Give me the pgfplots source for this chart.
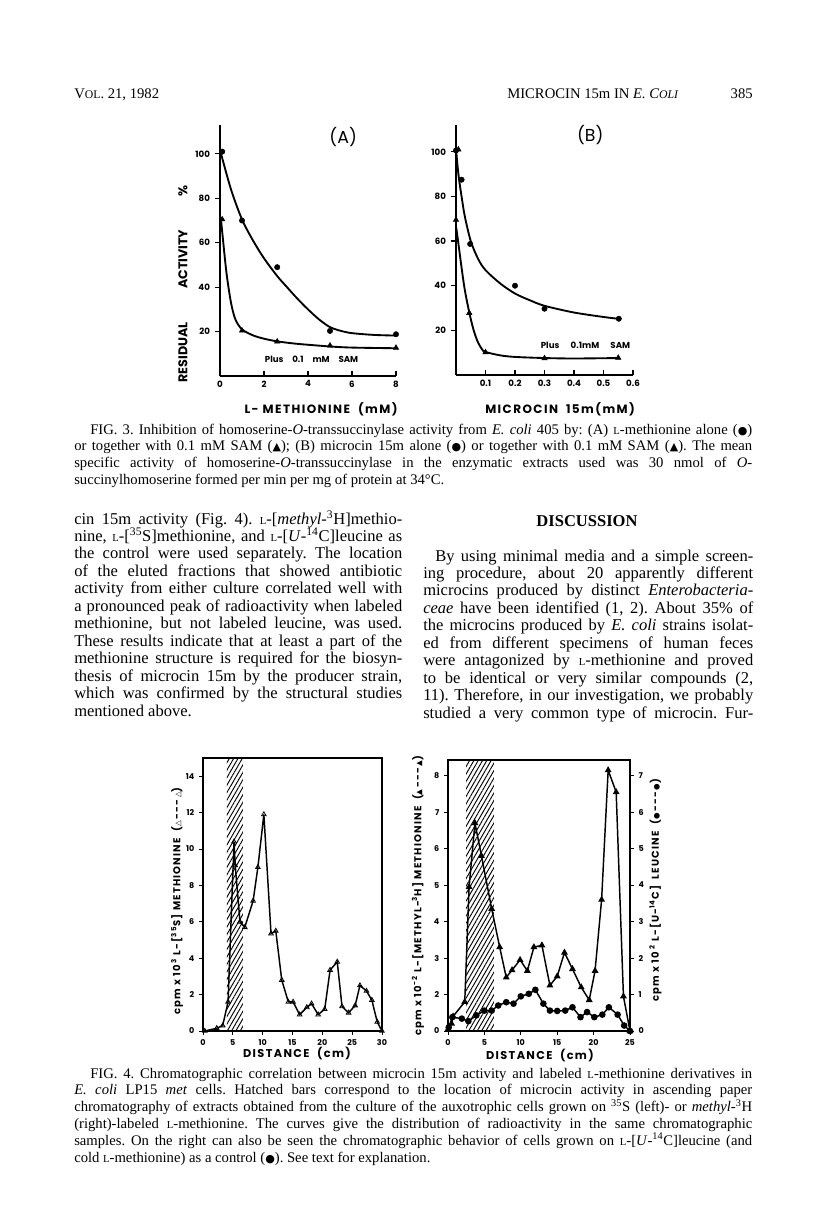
\documentclass[border=0pt]{standalone}
\usepackage{fontspec}
\setmainfont{Liberation Serif}
\newfontfamily\cf{Poppins}
\newfontfamily\cfs[LetterSpace=12]{Poppins}
\newfontfamily\sym{DejaVu Sans}
\usepackage{pgfplots}
\pgfplotsset{compat=1.18}
\usetikzlibrary{patterns.meta}

\newcommand\Ls{{\footnotesize L}}
\newcommand\jl[1]{\makebox[\linewidth][s]{#1}\par}
\newcommand\cir{{\sym\scalebox{0.75}{●}}}
\newcommand\tri{{\sym\scalebox{0.75}{▲}}}
\newcommand\otri{{\sym\scalebox{0.75}{△}}}

\tikzset{ylab4/.style={font=\cfs\bfseries\fontsize{7.5}{8}\selectfont}}
\pgfplotsset{
  tick label style={font=\cf\bfseries\fontsize{6.5}{7}\selectfont},
  /pgf/number format/assume math mode=true,
  fig3/.style={scale only axis, anchor=south west, axis lines=left,
    axis line style={line width=1.1pt, -}, tick style={line width=0.9pt, black},
    ytick align=outside, xtick align=inside, major tick length=4pt,
    ytick={20,40,60,80,100}, clip=false,
    label style={font=\cfs\bfseries\fontsize{9}{10}\selectfont}},
  fig4/.style={scale only axis, anchor=south west, tick pos=left,
    axis line style={line width=0.8pt}, tick style={line width=0.7pt, black},
    tick align=outside, major tick length=3pt,
    tick label style={font=\cf\bfseries\fontsize{6}{7}\selectfont},
    label style={font=\cfs\bfseries\fontsize{8.5}{9}\selectfont}},
  hatch/.style={draw=none, pattern={Lines[angle=60, distance=2.8pt, line width=0.7pt]}},
}

\begin{document}
\frenchspacing
\begin{tikzpicture}
\begin{scope}[x=0.75pt, y=-0.75pt]
\fill[white] (0,0) rectangle (816,1208);

% running head
\node[anchor=base west, inner sep=0, font=\fontsize{11}{12}\selectfont] at (74,98) {V{\fontsize{8.8}{10}\selectfont OL}. 21, 1982};
\node[anchor=base west, inner sep=0, font=\fontsize{11}{12}\selectfont] at (507,98) {MICROCIN 15m IN \textit{E. C{\fontsize{8.8}{10}\selectfont OLI}}};
\node[anchor=base east, inner sep=0, font=\fontsize{11}{12}\selectfont] at (753,98) {385};

% caption fig 3
\node[anchor=base west, inner sep=0] at (74,434) {\parbox[t]{508.5pt}{\fontsize{11}{12.6}\selectfont\parskip0pt\parindent0pt
\jl{\hspace*{12pt}FIG. 3. Inhibition of homoserine-\textit{O}-transsuccinylase activity from \textit{E. coli} 405 by: (A) \Ls-methionine alone (\cir)}
\jl{or together with 0.1 mM SAM (\tri); (B) microcin 15m alone (\cir) or together with 0.1 mM SAM (\tri). The mean}
\jl{specific activity of homoserine-\textit{O}-transsuccinylase in the enzymatic extracts used was 30 nmol of \textit{O}-}
\mbox{succinylhomoserine formed per min per mg of protein at 34°C.}}};

% left column
\node[anchor=base west, inner sep=0] at (74,524) {\parbox[t]{246pt}{\fontsize{12.4}{13.1}\selectfont\parskip0pt\parindent0pt
\jl{cin 15m activity (Fig. 4). \Ls-[\textit{methyl}-\textsuperscript{3}H]methio-}
\jl{nine, \Ls-[\textsuperscript{35}S]methionine, and \Ls-[\textit{U}-\textsuperscript{14}C]leucine as}
\jl{the control were used separately. The location}
\jl{of the eluted fractions that showed antibiotic}
\jl{activity from either culture correlated well with}
\jl{a pronounced peak of radioactivity when labeled}
\jl{methionine, but not labeled leucine, was used.}
\jl{These results indicate that at least a part of the}
\jl{methionine structure is required for the biosyn-}
\jl{thesis of microcin 15m by the producer strain,}
\jl{which was confirmed by the structural studies}
\mbox{mentioned above.}}};

% right column
\node[anchor=base, inner sep=0, font=\bfseries\fontsize{12.4}{13}\selectfont] at (587,526) {DISCUSSION};
\node[anchor=base west, inner sep=0] at (423,561) {\parbox[t]{247.5pt}{\fontsize{12.4}{13.1}\selectfont\parskip0pt\parindent0pt
\jl{\hspace*{9pt}By using minimal media and a simple screen-}
\jl{ing procedure, about 20 apparently different}
\jl{microcins produced by distinct \textit{Enterobacteria-}}
\jl{\textit{ceae} have been identified (1, 2). About 35\% of}
\jl{the microcins produced by \textit{E. coli} strains isolat-}
\jl{ed from different specimens of human feces}
\jl{were antagonized by \Ls-methionine and proved}
\jl{to be identical or very similar compounds (2,}
\jl{11). Therefore, in our investigation, we probably}
\jl{studied a very common type of microcin. Fur-}}};

% caption fig 4
\node[anchor=base west, inner sep=0] at (74,1078) {\parbox[t]{508.5pt}{\fontsize{11}{12.6}\selectfont\parskip0pt\parindent0pt
\jl{\hspace*{12pt}FIG. 4. Chromatographic correlation between microcin 15m activity and labeled \Ls-methionine derivatives in}
\jl{\textit{E. coli} LP15 \textit{met} cells. Hatched bars correspond to the location of microcin activity in ascending paper}
\jl{chromatography of extracts obtained from the culture of the auxotrophic cells grown on \textsuperscript{35}S (left)- or \textit{methyl}-\textsuperscript{3}H}
\jl{(right)-labeled \Ls-methionine. The curves give the distribution of radioactivity in the same chromatographic}
\jl{samples. On the right can also be seen the chromatographic behavior of cells grown on \Ls-[\textit{U}-\textsuperscript{14}C]leucine (and}
\mbox{cold \Ls-methionine) as a control (\cir). See text for explanation.}}};
\end{scope}

% ---------- Fig 3 (A)
\begin{axis}[fig3, at={(165pt,-282pt)}, width=132pt, height=188.25pt,
  xmin=0, xmax=8, ymin=0, ymax=113, xtick={0,2,4,6,8},
  xlabel={L- METHIONINE\ \ (mM)},
  xlabel style={at={(rel axis cs:0.574,-0.131)}, anchor=center},
  ylabel={\makebox[148pt][s]{RESIDUAL ACTIVITY \%}},
  ylabel style={at={(rel axis cs:-0.21,0.367)}, anchor=center, font=\cf\bfseries\fontsize{9.5}{10}\selectfont}]
\addplot[smooth, line width=1.4pt, no marks] coordinates {(0.05,100) (0.5,84) (1,70.5) (1.5,61) (2,53) (2.6,45) (3,40.5) (3.5,35) (4,30) (4.5,25.5) (5,22) (5.5,20.3) (6,19.3) (7,18.5) (8,18.2)};
\addplot[smooth, line width=1.4pt, no marks] coordinates {(0.05,70) (0.15,60) (0.3,46) (0.5,33) (0.7,25.5) (1,21) (1.5,18.3) (2,16.8) (2.6,15.6) (3.5,14.5) (5,13.3) (6,12.8) (8,12.5)};
\addplot[only marks, mark=*, mark size=2pt] coordinates {(0.1,101) (1,70) (2.6,49) (5,20.3) (8,18.8)};
\addplot[only marks, mark=triangle*, mark size=2.3pt] coordinates {(0.1,70.5) (1,20.4) (2.6,15.5) (5,13.7) (8,12.7)};
\node[font=\cf\fontsize{13}{14}\selectfont] at (axis cs:5.6,107.6) {(A)};
\node[font=\cf\bfseries\fontsize{6.5}{7}\selectfont] at (axis cs:4.16,7.7) {\makebox[70pt][s]{Plus 0.1 mM SAM}};
\end{axis}

% ---------- Fig 3 (B)
\begin{axis}[fig3, at={(342pt,-281.25pt)}, width=132.75pt, height=187.5pt,
  xmin=0, xmax=0.6, ymin=0, ymax=112, xtick={0.1,0.2,0.3,0.4,0.5,0.6},
  xticklabels={0.1,0.2,0.3,0.4,0.5,0.6},
  xlabel={MICROCIN\ \ 15m(mM)},
  xlabel style={at={(rel axis cs:0.588,-0.136)}, anchor=center}]
\addplot[smooth, line width=1.4pt, no marks] coordinates {(0.001,100) (0.005,94) (0.01,88) (0.02,79) (0.03,71) (0.05,60) (0.075,52) (0.1,47) (0.15,41) (0.2,36.5) (0.25,33.5) (0.3,31) (0.4,28) (0.5,26) (0.55,25.2)};
\addplot[smooth, line width=1.4pt, no marks] coordinates {(0.001,66) (0.01,57) (0.02,47) (0.03,38) (0.045,28) (0.06,20) (0.075,14.5) (0.09,11.2) (0.1,10.3) (0.15,8.8) (0.2,8.1) (0.3,7.6) (0.4,7.4) (0.55,7.6)};
\addplot[only marks, mark=*, mark size=2pt] coordinates {(0,100.6) (0.019,87.5) (0.048,58.7) (0.2,40) (0.3,29.7) (0.552,25.2)};
\addplot[only marks, mark=triangle*, mark size=2.3pt] coordinates {(0.008,101) (0,69.5) (0.045,27.8) (0.1,10.2) (0.3,7.5) (0.55,7.7)};
\node[font=\cf\fontsize{13}{14}\selectfont] at (axis cs:0.455,107.6) {(B)};
\node[font=\cf\bfseries\fontsize{6.5}{7}\selectfont] at (axis cs:0.439,13.1) {\makebox[67pt][s]{Plus 0.1mM SAM}};
\end{axis}

% ---------- Fig 4 left
\begin{axis}[fig4, at={(152.25pt,-773.25pt)}, width=134.25pt, height=204.75pt,
  xmin=0, xmax=30, ymin=0, ymax=15, xtick={0,5,...,30}, ytick={0,2,...,14},
  xlabel={DISTANCE\ \ (cm)},
  xlabel style={at={(rel axis cs:0.525,-0.081)}, anchor=center},
  ylabel={cpm x 10\,\textsuperscript{3} L-[\textsuperscript{35}S]\ METHIONINE\ \ (\otri\,---\,\otri)},
  ylabel style={at={(rel axis cs:-0.145,0.476)}, anchor=center, ylab4}]
\addplot[hatch] coordinates {(4,15) (6.7,15)} \closedcycle;
\addplot[line width=1.1pt, mark=triangle, mark size=2pt, mark options={line width=0.6pt, fill=white}] coordinates {
(0.3,0) (2.3,0.15) (3.3,0.3) (4.2,1.6) (5.2,10.4) (5.4,9.1) (6.2,6.0) (7.0,5.7) (8.4,7.15) (9.2,9.0) (10.2,11.9)
(11.4,5.35) (12.2,5.5) (13.2,2.8) (14.3,1.6) (15.1,1.6) (16.2,0.9) (17.4,1.3) (18.2,1.5) (19.3,0.9) (20.4,1.2)
(21.3,3.35) (22.5,3.8) (23.3,1.35) (24.4,1.0) (25.5,1.4) (26.3,2.5) (27.4,2.2) (28.3,1.7) (29.2,0.5) (30,0)};
\end{axis}

% ---------- Fig 4 right, methionine (left axis)
\begin{axis}[fig4, at={(336pt,-773.25pt)}, width=136.5pt, height=203.25pt,
  xmin=0, xmax=25, ymin=1, ymax=8.43, xtick={0,5,...,25}, ytick={1,2,...,8},
  yticklabels={0,2,3,4,5,6,7,8},
  xlabel={DISTANCE\ \ (cm)},
  xlabel style={at={(rel axis cs:0.505,-0.089)}, anchor=center},
  ylabel={cpm x 10\textsuperscript{-2} L-[METHYL-\textsuperscript{3}H] METHIONINE\ \ (\tri\,---\,\tri)},
  ylabel style={at={(rel axis cs:-0.165,0.5)}, anchor=center, ylab4}]
\addplot[hatch] coordinates {(2.5,8.43) (6.3,8.43)} \closedcycle;
\addplot[line width=1.1pt, mark=triangle*, mark size=1.9pt] coordinates {
(0,1.05) (0.5,1.2) (0.7,1.4) (2.3,1.8) (2.9,4.95) (3.7,6.7) (4.6,5.8) (6.0,4.35) (7.1,3.3) (8.0,2.47) (8.8,2.67)
(9.9,2.95) (10.9,2.65) (11.8,3.3) (12.9,3.35) (14.0,2.25) (15.0,2.5) (16.0,3.15) (17.1,2.7) (18.3,2.2) (19.4,1.85)
(20.2,2.65) (21.1,4.6) (22.0,8.15) (23.1,7.55) (24.1,1.95) (25,1)};
\end{axis}

% ---------- Fig 4 right, leucine (right axis)
\begin{axis}[fig4, at={(336pt,-773.25pt)}, width=136.5pt, height=203.25pt,
  xmin=0, xmax=25, ymin=0, ymax=7.43, axis x line=none, axis y line*=right,
  ytick={0,1,...,7}, tick pos=right,
  ylabel={cpm x 10\,\textsuperscript{2} L-[U-\textsuperscript{14}C]\ \ LEUCINE\ \ (\cir\,---\,\cir)},
  ylabel style={at={(rel axis cs:1.14,0.52)}, anchor=center, rotate=0, ylab4}]
\addplot[line width=1.1pt, mark=*, mark size=1.9pt] coordinates {
(0.1,0.1) (0.6,0.38) (1.9,0.34) (2.8,0.27) (3.9,0.43) (5.0,0.56) (6.0,0.56) (6.9,0.7) (8.0,0.79) (9.0,0.75)
(10.0,0.95) (11.1,1.02) (12.0,1.13) (13.1,0.75) (14.0,0.56) (15.0,0.55) (16.1,0.56) (17.1,0.65) (18.2,0.38)
(19.1,0.52) (20.1,0.38) (21.2,0.45) (22.1,0.65) (23.3,0.45) (24.2,0.15) (25,0)};
\end{axis}
\end{tikzpicture}
\end{document}
